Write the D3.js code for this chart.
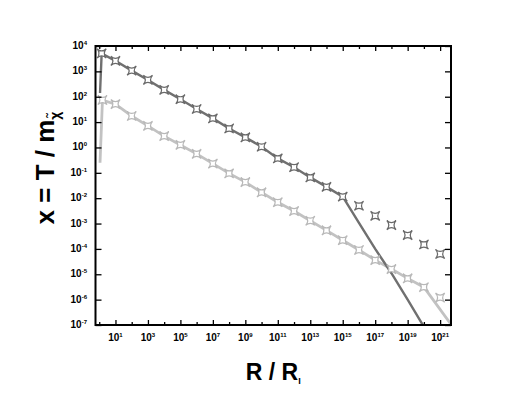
<!DOCTYPE html>
<html lang="en">
<head>
	<meta charset="UTF-8">
	<title>x = T / m vs R</title>
	<style type="text/css">
		body { margin: 0; background: #fff; }
		text { font-family: "Liberation Sans", Arial, sans-serif; }
	</style>
</head>
<body>
	<script type="text/javascript" src="https://cdn.jsdelivr.net/npm/d3@7/dist/d3.min.js"></script>
	<script type="text/javascript">
		// dark curve (line), R / R_I and x
		var darkR = [1.12, 1.41, 1e1, 1e2, 1e3, 1e4, 1e5, 1e6, 1e7, 1e8, 1e9, 1e10, 1e11, 1e12, 1e13, 1e14, 1e15, 1e16, 1e17, 1e18, 1e19, 1e20];
		var darkX = [1.4e2, 5.1e3, 2.6e3, 1.07e3, 4.6e2, 1.86e2, 79, 33, 14, 5.6, 2.5, 1.07, 0.37, 0.166, 0.066, 0.028, 0.0115, 1.07e-3, 1.0e-4, 1.1e-5, 1.0e-6, 8.5e-8];
		// dark markers
		var darkMarkR = [1.41, 1e1, 1e2, 1e3, 1e4, 1e5, 1e6, 1e7, 1e8, 1e9, 1e10, 1e11, 1e12, 1e13, 1e14, 1e15, 1e16, 1e17, 1e18, 1e19, 1e20, 1e21];
		var darkMarkX = [5.1e3, 2.6e3, 1.07e3, 4.6e2, 1.86e2, 79, 33, 14, 5.6, 2.5, 1.07, 0.37, 0.166, 0.066, 0.028, 0.0115, 5.0e-3, 2.0e-3, 8.7e-4, 3.5e-4, 1.5e-4, 6.3e-5];

		// light curve (line)
		var lightR = [1.12, 1.58, 1e1, 1e2, 1e3, 1e4, 1e5, 1e6, 1e7, 1e8, 1e9, 1e10, 1e11, 1e12, 1e13, 1e14, 1e15, 1e16, 1e17, 1e18, 1e19, 1e20, 5e21];
		var lightX = [0.25, 74, 51, 17.4, 7.1, 2.8, 1.26, 0.56, 0.23, 0.095, 0.043, 0.017, 6.9e-3, 3.1e-3, 1.29e-3, 5.4e-4, 2.2e-4, 9.1e-5, 3.6e-5, 1.6e-5, 6.9e-6, 3.1e-6, 1e-7];
		// light markers
		var lightMarkR = [1.58, 1e1, 1e2, 1e3, 1e4, 1e5, 1e6, 1e7, 1e8, 1e9, 1e10, 1e11, 1e12, 1e13, 1e14, 1e15, 1e16, 1e17, 1e18, 1e19, 1e20, 1e21];
		var lightMarkX = [74, 51, 17.4, 7.1, 2.8, 1.26, 0.56, 0.23, 0.095, 0.043, 0.017, 6.9e-3, 3.1e-3, 1.29e-3, 5.4e-4, 2.2e-4, 9.1e-5, 3.6e-5, 1.6e-5, 6.9e-6, 3.1e-6, 1.2e-6];

		// tick labels
		var xLabelExp = [1, 3, 5, 7, 9, 11, 13, 15, 17, 19, 21];
		var yLabelExp = [4, 3, 2, 1, 0, -1, -2, -3, -4, -5, -6, -7];

		var W = 526, H = 393;
		var pL = 95.5, pR = 451, pT = 46, pB = 325;

		var svg = d3.select('body')
					.append('svg')
					.attr('width', W)
					.attr('height', H);

		var x = d3.scaleLog()
					.domain([Math.pow(10, -0.23), Math.pow(10, 21.67)])
					.range([pL, pR]);
		var y = d3.scaleLog()
					.domain([1e-7, 1e4])
					.range([pB, pT]);

		svg.append('clipPath')
			.attr('id', 'plotclip')
			.append('rect')
			.attr('x', pL)
			.attr('y', pT)
			.attr('width', pR - pL)
			.attr('height', pB - pT);

		var plot = svg.append('g').attr('clip-path', 'url(#plotclip)');

		var line = d3.line()
					.x(function (d) { return x(d[0]); })
					.y(function (d) { return y(d[1]); });

		var darkColor = '#707070';
		var lightColor = '#c2c2c2';

		plot.append('path')
			.datum(d3.zip(lightR, lightX))
			.attr('d', line)
			.attr('fill', 'none')
			.attr('stroke', lightColor)
			.attr('stroke-width', 2.8);

		plot.append('path')
			.datum(d3.zip(darkR, darkX))
			.attr('d', line)
			.attr('fill', 'none')
			.attr('stroke', darkColor)
			.attr('stroke-width', 2.4);

		// four pointed open star marker, points on the diagonals
		function star(r) {
			var a = r * 0.06;
			return 'M0,' + (-r) + 'Q' + a + ',' + (-a) + ' ' + r + ',0' +
				'Q' + a + ',' + a + ' 0,' + r +
				'Q' + (-a) + ',' + a + ' ' + (-r) + ',0' +
				'Q' + (-a) + ',' + (-a) + ' 0,' + (-r) + 'Z';
		}

		function markers(rs, xs, color) {
			plot.append('g')
				.selectAll('path')
				.data(d3.zip(rs, xs))
				.enter()
				.append('path')
				.attr('transform', function (d) {
					return 'translate(' + x(d[0]) + ',' + y(d[1]) + ') rotate(45)';
				})
				.attr('d', star(6.5))
				.attr('fill', '#fff')
				.attr('stroke', color)
				.attr('stroke-width', 1.2);
		}
		markers(lightMarkR, lightMarkX, '#b8b8b8');
		markers(darkMarkR, darkMarkX, '#6a6a6a');

		// axes: ticks inside the frame
		var xMajor = xLabelExp.map(function (e) { return Math.pow(10, e); });
		var xMinor = [0, 2, 4, 6, 8, 10, 12, 14, 16, 18, 20].map(function (e) { return Math.pow(10, e); });
		var yMajor = yLabelExp.map(function (e) { return Math.pow(10, e); });
		var yMinor = y.ticks().filter(function (v) {
			return yMajor.indexOf(v) < 0;
		});

		function tickAxis(axis, vals, len, tr) {
			svg.append('g')
				.attr('transform', tr)
				.call(axis.tickValues(vals).tickSize(len).tickFormat(''))
				.call(function (g) {
					g.select('.domain').remove();
					g.selectAll('line').attr('stroke', '#000').attr('stroke-width', 1.3);
				});
		}
		tickAxis(d3.axisBottom(x), xMajor, -5, 'translate(0,' + pB + ')');
		tickAxis(d3.axisBottom(x), xMinor, -3, 'translate(0,' + pB + ')');
		tickAxis(d3.axisTop(x), xMajor, -5, 'translate(0,' + pT + ')');
		tickAxis(d3.axisTop(x), xMinor, -3, 'translate(0,' + pT + ')');
		tickAxis(d3.axisLeft(y), yMajor, -6, 'translate(' + pL + ',0)');
		tickAxis(d3.axisLeft(y), yMinor, -3, 'translate(' + pL + ',0)');
		tickAxis(d3.axisRight(y), yMajor, -6, 'translate(' + pR + ',0)');
		tickAxis(d3.axisRight(y), yMinor, -3, 'translate(' + pR + ',0)');

		// frame
		svg.append('rect')
			.attr('x', pL)
			.attr('y', pT)
			.attr('width', pR - pL)
			.attr('height', pB - pT)
			.attr('fill', 'none')
			.attr('stroke', '#000')
			.attr('stroke-width', 2);

		// tick labels
		var xl = svg.append('g').selectAll('text')
					.data(xLabelExp)
					.enter()
					.append('text')
					.attr('x', function (d) { return x(Math.pow(10, d)); })
					.attr('y', pB + 16)
					.attr('text-anchor', 'middle')
					.attr('font-size', '10px')
					.attr('font-weight', 'bold')
					.attr('fill', '#000');
		xl.append('tspan').text('10');
		xl.append('tspan').attr('dy', -4).attr('font-size', '6px').text(function (d) { return d; });

		var yl = svg.append('g').selectAll('text')
					.data(yLabelExp)
					.enter()
					.append('text')
					.attr('x', 87)
					.attr('y', function (d) { return y(Math.pow(10, d)) + 3; })
					.attr('text-anchor', 'end')
					.attr('font-size', '10px')
					.attr('font-weight', 'bold')
					.attr('fill', '#000');
		yl.append('tspan').text('10');
		yl.append('tspan').attr('dy', -4).attr('font-size', '6px').text(function (d) { return d; });

		// axis titles
		var xt = svg.append('text')
					.attr('x', (pL + pR) / 2)
					.attr('y', 380)
					.attr('text-anchor', 'middle')
					.attr('font-size', '23px')
					.attr('font-weight', 'bold');
		xt.append('tspan').text('R / R');
		xt.append('tspan').attr('dy', 4).attr('font-size', '9px').text('I');

		var yt = svg.append('text')
					.attr('transform', 'translate(54,168) rotate(-90)')
					.attr('text-anchor', 'middle')
					.attr('font-size', '26px')
					.attr('font-weight', 'bold');
		yt.append('tspan').text('x = T / m');
		yt.append('tspan').attr('dy', 6).attr('font-size', '14px').text('\u03C7\u0303');
	</script>
</body>
</html>
